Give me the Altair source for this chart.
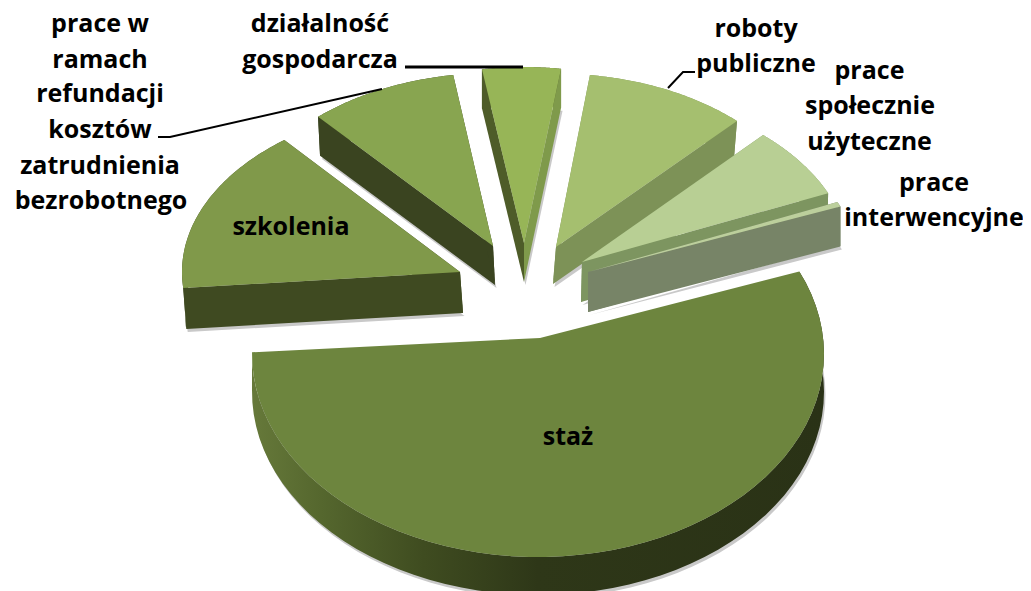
import math
import altair as alt

# Slice data: elliptical sweep of every exploded slice
names = ["działalność gospodarcza", "prace w ramach refundacji", "szkolenia", "roboty publiczne",
         "prace społecznie użyteczne", "prace interwencyjne", "staż"]
angle_start = [99.2, 131.7, 129.2, 82.6, 47.6, 24.0, 24.0]
angle_end = [81.9, 98.7, 185.4, 46.6, 23.6, 22.4, -180.5]
top_colors = ["#97b557", "#88a550", "#80994a", "#a5bf6f", "#b8cf94", "#bccf9c", "#6d853e"]
wall_start_colors = ["#4e5c29", "#3a4420", "#3f4a21", "#7d9257", "#7d9560", "#778467", "#3f4c20"]
wall_end_colors = ["#7f9a4b", "#3a4420", "#3f4a21", "#7d9257", "#7d9560", "#778467", "#3f4c20"]

# Layout of the exploded slices, in page pixels
apex = [(524, 243), (493, 246), (460, 272), (556, 247), (582, 262), (588, 272), (540, 338)]
centre = [(524, 243), (493, 246), (460, 272), (556, 247), (582, 262), (588, 272), (538, 354)]
radii = [(263, 176), (263, 173), (278, 170.4), (263.4, 173.4), (268.6, 171.9), (273, 172), (286, 203)]
extrude = [(0, 39), (2, 39), (3, 41), (-3, 37), (-1, 40), (0, 40), (0, 38)]

label_text = ["prace w", "ramach", "refundacji", "kosztów", "zatrudnienia", "bezrobotnego",
              "działalność", "gospodarcza", "roboty", "publiczne", "prace", "społecznie",
              "użyteczne", "prace", "interwencyjne", "szkolenia", "staż"]
label_x = [100, 100, 100, 100, 100, 101, 320, 320, 756, 756, 869.5, 870, 869.5, 934, 934, 291, 568]
label_y = [32, 68, 102, 138, 174, 209, 32, 68, 37, 72, 79, 114, 150, 191, 226, 235, 445]

leaders = [[(405, 67), (523, 67)], [(158, 137), (170, 137), (382, 89)], [(695, 72), (683, 72), (668, 88)]]
leader_width = [3, 2, 2]

M = 8  # page margin
SHADOW = (1.5, 3)


def px(p):
    return [p[0] - M, p[1] - M]


def arc(i, n=60):
    cx, cy = centre[i]
    a, b = radii[i]
    t0, t1 = angle_start[i], angle_end[i]
    out = []
    for k in range(n + 1):
        t = math.radians(t0 + (t1 - t0) * k / n)
        out.append((cx + a * math.cos(t), cy - b * math.sin(t)))
    return out


def poly(points, fill):
    ring = [px(p) for p in points]
    ring.append(ring[0])
    return {"type": "Feature", "properties": {"fill": fill},
            "geometry": {"type": "Polygon", "coordinates": [ring]}}


def shift(points, d):
    return [(p[0] + d[0], p[1] + d[1]) for p in points]


def side(i, fill):
    pts = arc(i)
    return poly(pts + shift(pts, extrude[i])[::-1], fill)


def collection(features):
    return alt.InlineData(values={"type": "FeatureCollection", "features": features},
                          format=alt.DataFormat(property="features", type="json"))


projection = alt.Projection(type="identity", scale=1, translate=[0, 0])

shadow = []
for i in range(7):
    pts = [apex[i]] + arc(i)
    shadow.append(poly(shift(shift(pts, extrude[i]), SHADOW), "#c9c9c9"))

layer_shadow = alt.Chart(collection(shadow)).mark_geoshape(stroke=None).encode(
    fill=alt.Fill("properties.fill:N", scale=None)
).project(**projection.to_dict())

body = []
for i in range(6):
    pts = arc(i)
    A, d = apex[i], extrude[i]
    body.append(side(i, wall_start_colors[i]))
    body.append(poly([A, pts[0], shift([pts[0]], d)[0], shift([A], d)[0]], wall_start_colors[i]))
    body.append(poly([A, pts[-1], shift([pts[-1]], d)[0], shift([A], d)[0]], wall_end_colors[i]))
    body.append(poly([A] + pts, top_colors[i]))

layer_body = alt.Chart(collection(body)).mark_geoshape(strokeWidth=0.5, stroke=None).encode(
    fill=alt.Fill("properties.fill:N", scale=None)
).project(**projection.to_dict())

staz_gradient = alt.Gradient(
    gradient="linear", x1=0, x2=1, y1=0, y2=0,
    stops=[alt.GradientStop(offset=0, color="#66793a"), alt.GradientStop(offset=0.12, color="#55672e"),
           alt.GradientStop(offset=0.3, color="#3f4c20"), alt.GradientStop(offset=0.5, color="#2e3718"),
           alt.GradientStop(offset=1, color="#2a3216")])
layer_staz_side = alt.Chart(collection([side(6, "#3f4c20")])).mark_geoshape(
    fill=staz_gradient, stroke=None).project(**projection.to_dict())

layer_staz_top = alt.Chart(collection([poly([apex[6]] + arc(6), top_colors[6])])).mark_geoshape(
    fill=top_colors[6], stroke=None).project(**projection.to_dict())

line_features = []
for seg, w in zip(leaders, leader_width):
    line_features.append({"type": "Feature", "properties": {"w": w},
                          "geometry": {"type": "LineString", "coordinates": [px(p) for p in seg]}})
layer_lines = alt.Chart(collection(line_features)).mark_geoshape(
    filled=False, stroke="#000000").encode(
    strokeWidth=alt.StrokeWidth("properties.w:Q", scale=None)
).project(**projection.to_dict())

label_rows = [{"t": t, "x": x - M, "y": y - M} for t, x, y in zip(label_text, label_x, label_y)]
layer_text = alt.Chart(alt.Data(values=label_rows)).mark_text(
    font="Open Sans", fontWeight="bold", fontSize=25, align="center", baseline="alphabetic", color="#000000"
).encode(
    x=alt.X("x:Q", scale=None, axis=None),
    y=alt.Y("y:Q", scale=None, axis=None),
    text="t:N",
)

chart = alt.layer(layer_shadow, layer_body, layer_staz_side, layer_staz_top, layer_lines, layer_text).properties(
    width=1015, height=583, padding=0, background="#ffffff",
    autosize=alt.AutoSizeParams(type="none"),
).resolve_scale(x="independent", y="independent").configure_view(stroke=None)

chart.save("out.html", embed_options={"renderer": "svg", "actions": False})
